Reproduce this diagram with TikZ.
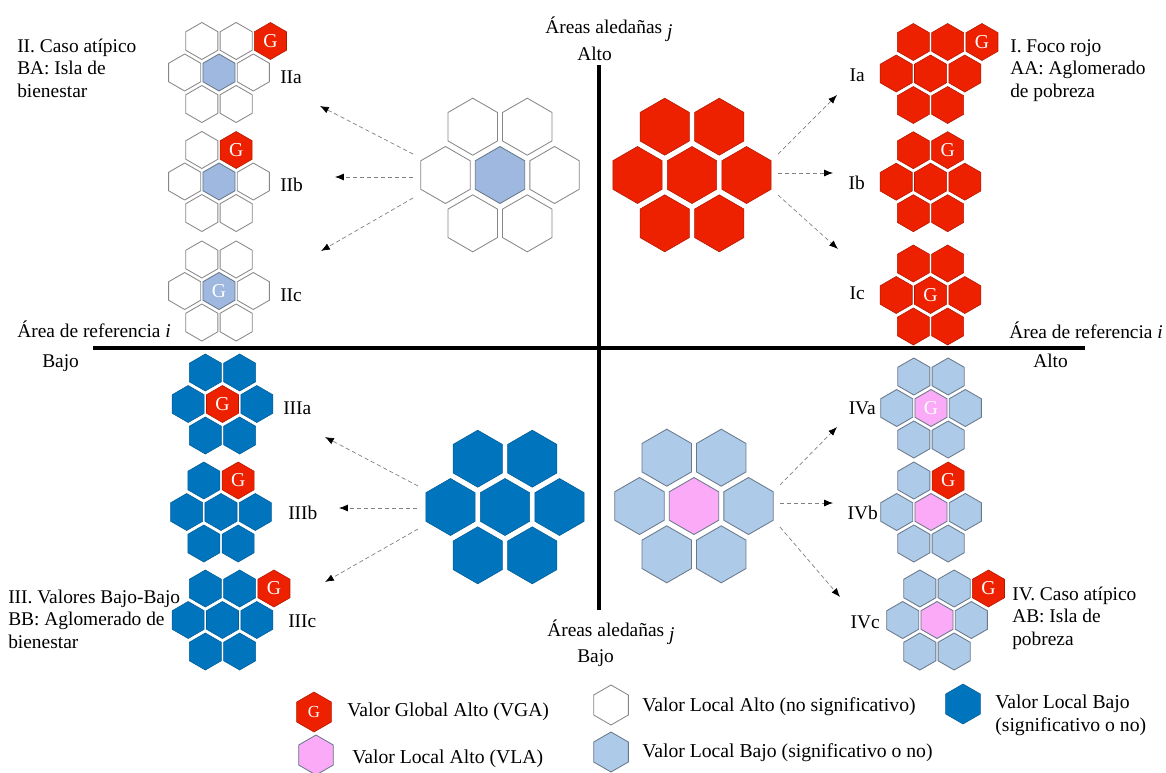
\documentclass[tikz,border=0pt]{standalone}
\usepackage{fontspec}
\setmainfont{Liberation Serif}
\usepackage{tikz}
\usetikzlibrary{shapes.geometric,arrows.meta,calc}

\definecolor{hotred}{RGB}{237,32,0}
\definecolor{deepblue}{RGB}{0,116,189}
\definecolor{paleblue}{RGB}{173,203,233}
\definecolor{lilac}{RGB}{250,170,246}
\definecolor{coreblue}{RGB}{158,184,224}
\definecolor{slate}{RGB}{105,120,138}
\definecolor{hexgray}{RGB}{135,135,135}

\tikzset{
  hexa/.style={regular polygon, regular polygon sides=6, shape border rotate=30,
    inner sep=0pt, minimum size=#1},
  bighex/.style={hexa=1.425cm},
  smallhex/.style={hexa=0.925cm, font=\fontsize{14}{14}\selectfont},
  legendhex/.style={hexa=1.0cm, font=\fontsize{12}{12}\selectfont},
  whitecell/.style={fill=white, draw=hexgray, line width=0.6pt},
  corecell/.style={fill=coreblue, draw=slate, line width=0.6pt, text=white},
  redcell/.style={fill=hotred, draw=hotred!75!black, line width=0.4pt, text=white},
  darkcell/.style={fill=deepblue, draw=deepblue!80!black, line width=0.4pt},
  palecell/.style={fill=paleblue, draw=slate, line width=0.6pt},
  pinkcell/.style={fill=lilac, draw=slate, line width=0.6pt, text=white},
  bigflower/.style={x=1.3625cm, y=-1.2075cm},
  smallflower/.style={x=0.8575cm, y=-0.7875cm},
  flowarrow/.style={draw=gray, line width=0.5pt, dash pattern=on 3pt off 2pt,
    -{Latex[length=2.2mm, width=1.7mm, color=black]}},
  axisline/.style={line width=2.8pt, black},
  caption/.style={font=\fontsize{13.8}{16}\selectfont, align=left, inner sep=0pt},
  tag/.style={font=\fontsize{13.8}{16}\selectfont, inner sep=0pt},
  keytext/.style={font=\fontsize{14}{16.5}\selectfont, align=left, inner sep=0pt, anchor=west},
}

% seven cells: ring, top-right cell (with text), centre cell (with text)
\newcommand{\hexflower}[6]{%
  \node[#2] (#1-a) at (-0.5,-1) {};
  \node[#3] (#1-b) at (0.5,-1) {#4};
  \node[#2] (#1-c) at (-1,0) {};
  \node[#5] (#1-o) at (0,0) {#6};
  \node[#2] (#1-d) at (1,0) {};
  \node[#2] (#1-e) at (-0.5,1) {};
  \node[#2] (#1-f) at (0.5,1) {};
}

\begin{document}
\begin{tikzpicture}[x=0.025cm, y=-0.025cm]
  \useasboundingbox (0,0) rectangle (1166,772);

  % axes
  \coordinate (ytop) at (599,65);
  \coordinate (ybot) at (599,610);
  \coordinate (xleft) at (93,348);
  \coordinate (xright) at (1085,348);
  \draw[axisline] (xleft) -- (xright);
  \draw[axisline] (ytop) -- (ybot);

  % axis labels
  \node[tag, anchor=base west] (jtop) at (545,33) {Áreas aledañas \raisebox{-0.5ex}{\textit{j}}};
  \node[tag, anchor=base west] (jtophigh) at (577,60) {Alto};
  \node[tag, anchor=base west] (jbot) at (547,636) {Áreas aledañas \raisebox{-0.5ex}{\textit{j}}};
  \node[tag, anchor=base west] (jbotlow) at (577,662) {Bajo};
  \node[tag, anchor=base west] (ileft) at (17,337) {Área de referencia \textit{i}};
  \node[tag, anchor=base west] (ileftlow) at (42,367) {Bajo};
  \node[tag, anchor=base west] (iright) at (1009,338) {Área de referencia \textit{i}};
  \node[tag, anchor=base west] (irighthigh) at (1033,367) {Alto};

  % big flowers
  \begin{scope}[shift={(500,175)}, bigflower]
    \hexflower{TL}{bighex,whitecell}{bighex,whitecell}{}{bighex,corecell}{}
  \end{scope}
  \begin{scope}[shift={(692,175)}, bigflower]
    \hexflower{TR}{bighex,redcell}{bighex,redcell}{}{bighex,redcell}{}
  \end{scope}
  \begin{scope}[shift={(505,507)}, bigflower]
    \hexflower{BL}{bighex,darkcell}{bighex,darkcell}{}{bighex,darkcell}{}
  \end{scope}
  \begin{scope}[shift={(694,506)}, bigflower]
    \hexflower{BR}{bighex,palecell}{bighex,palecell}{}{bighex,pinkcell}{}
  \end{scope}

  % quadrant II
  \begin{scope}[shift={(219,72.5)}, smallflower]
    \hexflower{IIa}{smallhex,whitecell}{smallhex,whitecell}{}{smallhex,corecell}{}
    \node[smallhex,redcell] (IIa-g) at (1.5,-1) {G};
  \end{scope}
  \begin{scope}[shift={(219,181.5)}, smallflower]
    \hexflower{IIb}{smallhex,whitecell}{smallhex,redcell}{G}{smallhex,corecell}{}
  \end{scope}
  \begin{scope}[shift={(219,291)}, smallflower]
    \hexflower{IIc}{smallhex,whitecell}{smallhex,whitecell}{}{smallhex,corecell}{G}
  \end{scope}
  \node[tag, anchor=west] (IIa-lbl) at (280,77) {IIa};
  \node[tag, anchor=west] (IIb-lbl) at (280,185) {IIb};
  \node[tag, anchor=west] (IIc-lbl) at (280,295) {IIc};
  \node[caption, anchor=base west] (IIcap) at (17,97) {II. Caso atípico\\BA: Isla de\\bienestar};

  % quadrant I
  \begin{scope}[shift={(930.5,73.5)}, smallflower]
    \hexflower{Ia}{smallhex,redcell}{smallhex,redcell}{}{smallhex,redcell}{}
    \node[smallhex,redcell] (Ia-g) at (1.5,-1) {G};
  \end{scope}
  \begin{scope}[shift={(930.5,181.7)}, smallflower]
    \hexflower{Ib}{smallhex,redcell}{smallhex,redcell}{G}{smallhex,redcell}{}
  \end{scope}
  \begin{scope}[shift={(930.5,295)}, smallflower]
    \hexflower{Ic}{smallhex,redcell}{smallhex,redcell}{}{smallhex,redcell}{G}
  \end{scope}
  \node[tag, anchor=east] (Ia-lbl) at (865,75) {Ia};
  \node[tag, anchor=east] (Ib-lbl) at (865,183) {Ib};
  \node[tag, anchor=east] (Ic-lbl) at (865,293) {Ic};
  \node[caption, anchor=base west] (Icap) at (1010,97) {I. Foco rojo\\AA: Aglomerado\\de pobreza};

  % quadrant III
  \begin{scope}[shift={(222.5,404)}, smallflower]
    \hexflower{IIIa}{smallhex,darkcell}{smallhex,darkcell}{}{smallhex,redcell}{G}
  \end{scope}
  \begin{scope}[shift={(221,512)}, smallflower]
    \hexflower{IIIb}{smallhex,darkcell}{smallhex,redcell}{G}{smallhex,darkcell}{}
  \end{scope}
  \begin{scope}[shift={(222.5,620)}, smallflower]
    \hexflower{IIIc}{smallhex,darkcell}{smallhex,darkcell}{}{smallhex,darkcell}{}
    \node[smallhex,redcell] (IIIc-g) at (1.5,-1) {G};
  \end{scope}
  \node[tag, anchor=west] (IIIa-lbl) at (283,408) {IIIa};
  \node[tag, anchor=west] (IIIb-lbl) at (288,513) {IIIb};
  \node[tag, anchor=west] (IIIc-lbl) at (288,621) {IIIc};
  \node[caption, anchor=base west] (IIIcap) at (8,648) {III. Valores Bajo-Bajo\\BB: Aglomerado de\\bienestar};

  % quadrant IV
  \begin{scope}[shift={(931,408)}, smallflower]
    \hexflower{IVa}{smallhex,palecell}{smallhex,palecell}{}{smallhex,pinkcell}{G}
  \end{scope}
  \begin{scope}[shift={(931,512)}, smallflower]
    \hexflower{IVb}{smallhex,palecell}{smallhex,redcell}{G}{smallhex,pinkcell}{}
  \end{scope}
  \begin{scope}[shift={(937,620)}, smallflower]
    \hexflower{IVc}{smallhex,palecell}{smallhex,palecell}{}{smallhex,pinkcell}{}
    \node[smallhex,redcell] (IVc-g) at (1.5,-1) {G};
  \end{scope}
  \node[tag, anchor=east] (IVa-lbl) at (876,408) {IVa};
  \node[tag, anchor=east] (IVb-lbl) at (878,513) {IVb};
  \node[tag, anchor=east] (IVc-lbl) at (880,622) {IVc};
  \node[caption, anchor=base west] (IVcap) at (1012,645) {IV. Caso atípico\\AB: Isla de\\pobreza};

  % arrows
  \coordinate (TL-o1) at (413,154);  \coordinate (IIa-in) at (320,106);
  \coordinate (TL-o2) at (413,177);  \coordinate (IIb-in) at (335,177);
  \coordinate (TL-o3) at (413,198);  \coordinate (IIc-in) at (321,251);
  \coordinate (TR-o1) at (778,154);  \coordinate (Ia-in) at (837,95);
  \coordinate (TR-o2) at (778,173);  \coordinate (Ib-in) at (833,173);
  \coordinate (TR-o3) at (778,195);  \coordinate (Ic-in) at (838,249);
  \coordinate (BL-o1) at (418,486);  \coordinate (IIIa-in) at (325,437);
  \coordinate (BL-o2) at (417,508);  \coordinate (IIIb-in) at (339,508);
  \coordinate (BL-o3) at (418,529);  \coordinate (IIIc-in) at (325,582);
  \coordinate (BR-o1) at (780,485);  \coordinate (IVa-in) at (837,427);
  \coordinate (BR-o2) at (780,503);  \coordinate (IVb-in) at (833,503);
  \coordinate (BR-o3) at (780,527);  \coordinate (IVc-in) at (840,597);
  \foreach \s/\t in {TL-o1/IIa-in, TL-o2/IIb-in, TL-o3/IIc-in,
                     TR-o1/Ia-in, TR-o2/Ib-in, TR-o3/Ic-in,
                     BL-o1/IIIa-in, BL-o2/IIIb-in, BL-o3/IIIc-in,
                     BR-o1/IVa-in, BR-o2/IVb-in, BR-o3/IVc-in}
    \draw[flowarrow] (\s) -- (\t);

  % legend
  \node[legendhex, redcell] (key-g) at (314,712) {G};
  \node[keytext] (key-g-txt) at (347,712) {Valor Global Alto (VGA)};
  \node[legendhex, pinkcell] (key-p) at (316,755) {};
  \node[keytext] (key-p-txt) at (352,759) {Valor Local Alto (VLA)};
  \node[legendhex, whitecell] (key-w) at (611,705) {};
  \node[keytext] (key-w-txt) at (642,707) {Valor Local Alto (no significativo)};
  \node[legendhex, palecell] (key-l) at (611,752) {};
  \node[keytext] (key-l-txt) at (642,753) {Valor Local Bajo (significativo o no)};
  \node[legendhex, darkcell] (key-d) at (963,704) {};
  \node[keytext] (key-d-txt) at (995,715) {Valor Local Bajo\\(significativo o no)};
\end{tikzpicture}
\end{document}
